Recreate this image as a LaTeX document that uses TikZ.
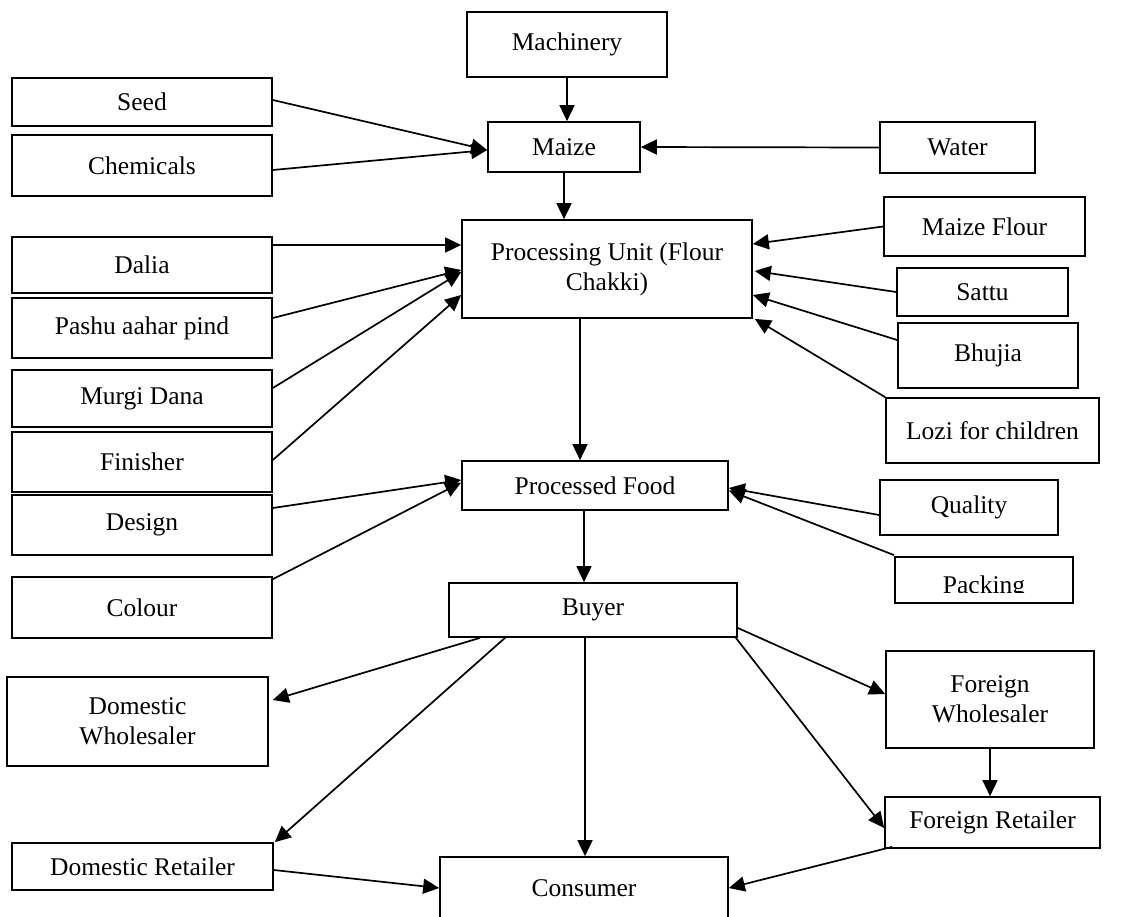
\documentclass[tikz,border=0pt]{standalone}
\usepackage{fontspec}
\setmainfont{Liberation Serif}
\usetikzlibrary{arrows.meta}
\begin{document}
\begin{tikzpicture}[x=1pt,y=-1pt,
  box/.style={draw,line width=1.7pt,inner sep=0pt,align=center,
    font=\fontsize{25.5}{30}\selectfont},
  arr/.style={line width=1.7pt,-{Triangle[length=16pt,width=15pt]}}]
\useasboundingbox (0,0) rectangle (1123,916);
\clip (0,0) rectangle (1123,916);
% boxes
\node[box,minimum width=200,minimum height=65] (mach) at (567,44.5) {Machinery};
\node[box,minimum width=260,minimum height=48] (seed) at (142,102) {Seed};
\node[box,minimum width=260,minimum height=61] (chem) at (142,165.5) {Chemicals};
\node[box,minimum width=152,minimum height=50] (maize) at (564,147) {Maize};
\node[box,minimum width=155,minimum height=51] (water) at (957.5,147.5) {Water};
\node[box,minimum width=290,minimum height=98] (proc) at (607,269) {Processing Unit (Flour\\Chakki)};
\node[box,minimum width=201,minimum height=59] (mflour) at (984.5,226.5) {Maize Flour};
\node[box,minimum width=171,minimum height=48] (sattu) at (982.5,292) {Sattu};
\node[box,minimum width=180,minimum height=65] (bhujia) at (988,355.5) {Bhujia};
\node[box,minimum width=213,minimum height=65] (lozi) at (992.5,430.5) {Lozi for children};
\node[box,minimum width=260,minimum height=56] (dalia) at (142,265) {Dalia};
\node[box,minimum width=260,minimum height=60] (pashu) at (142,328) {Pashu aahar pind};
\node[box,minimum width=260,minimum height=57] (murgi) at (142,398.5) {Murgi Dana};
\node[box,minimum width=260,minimum height=60] (fin) at (142,462) {Finisher};
\node[box,minimum width=260,minimum height=60] (design) at (142,525) {Design};
\node[box,minimum width=260,minimum height=61] (colour) at (142,607.5) {Colour};
\node[box,minimum width=266,minimum height=49] (pfood) at (595,485.5) {Processed Food};
\node[box,minimum width=178,minimum height=55] (quality) at (969,507.5) {Quality};
\node[box,minimum width=178,minimum height=46] (packing) at (984,580) {};
\begin{scope}
\clip (895,557) rectangle (1073,592);
\node[font=\fontsize{25.5}{30}\selectfont,anchor=base,inner sep=0pt] (packtxt) at (984,593) {Packing};
\end{scope}
\node[box,minimum width=288,minimum height=54] (buyer) at (593,610) {Buyer};
\node[box,minimum width=261,minimum height=89] (dw) at (137.5,721.5) {Domestic\\Wholesaler};
\node[box,minimum width=261,minimum height=47] (dr) at (142.5,866.5) {Domestic Retailer};
\node[box,minimum width=288,minimum height=62] (cons) at (584,888) {Consumer};
\node[box,minimum width=208,minimum height=97] (fw) at (990,699.5) {Foreign\\Wholesaler};
\node[box,minimum width=215,minimum height=51] (fr) at (992.5,822.5) {Foreign Retailer};
% connectors (yshift is in canvas units: positive = up)
\draw[arr] (mach.south) -- (mach.south |- maize.north);
\draw[arr] ([yshift=2]seed.east) -- ([yshift=-3]maize.west);
\draw[arr] ([yshift=-4.5]chem.east) -- ([yshift=-3]maize.west);
\draw[arr] (water.west) -- (maize.east);
\draw[arr] (maize.south) -- (maize.south |- proc.north);
\draw[arr] (mflour.west) -- ([yshift=25]proc.east);
\draw[arr] (sattu.west) -- ([xshift=2,yshift=-2]proc.east);
\draw[arr] ([yshift=15.5]bhujia.west) -- ([yshift=-26]proc.east);
\draw[arr] (lozi.north west) -- ([xshift=2]proc.south east);
\draw[arr] ([yshift=20]dalia.east) -- ([yshift=24]proc.west);
\draw[arr] ([yshift=10]pashu.east) -- ([yshift=-1]proc.west);
\draw[arr] ([yshift=10.5]murgi.east) -- ([yshift=-3]proc.west);
\draw[arr] ([yshift=2]fin.east) -- ([yshift=-26]proc.west);
\draw[arr] ([xshift=-27]proc.south) -- ([xshift=-27]proc.south |- pfood.north);
\draw[arr] ([yshift=17]design.east) -- ([yshift=5.5]pfood.west);
\draw[arr] ([yshift=-3]colour.north east) -- ([yshift=3]pfood.west);
\draw[arr] ([yshift=-7.5]quality.west) -- ([yshift=-2.5]pfood.east);
\draw[arr] ([yshift=1]packing.north west) -- ([yshift=-5]pfood.east);
\draw[arr] ([xshift=-11]pfood.south) -- ([xshift=-11]pfood.south |- buyer.north);
\draw[arr] ([xshift=-113]buyer.south) -- ([xshift=4,yshift=21.5]dw.east);
\draw[arr] ([xshift=-88]buyer.south) -- ([xshift=1]dr.north east);
\draw[arr] ([xshift=-8]buyer.south) -- ([xshift=-8]buyer.south |- cons.north);
\draw[arr] ([yshift=-18]buyer.east) -- ([yshift=5.5]fw.west);
\draw[arr] ([xshift=-2]buyer.south east) -- ([yshift=-5.5]fr.west);
\draw[arr] (fw.south) -- (fw.south |- fr.north);
\draw[arr] ([yshift=-3.5]dr.east) -- (cons.west);
\draw[arr] ([xshift=8,yshift=2]fr.south west) -- (cons.east);
\end{tikzpicture}
\end{document}
